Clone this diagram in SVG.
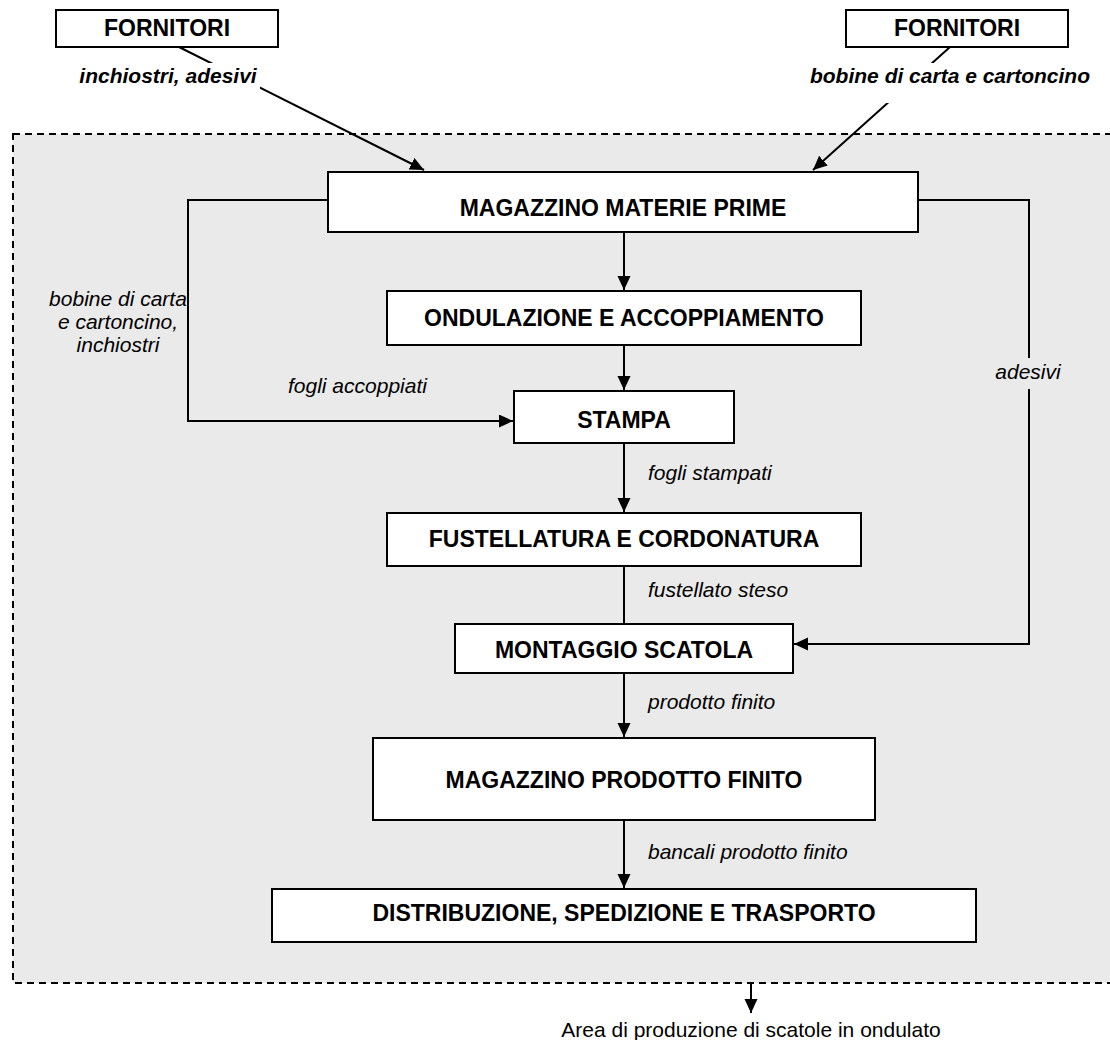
<svg xmlns="http://www.w3.org/2000/svg" width="1110" height="1040" viewBox="0 0 1110 1040">
<style>
.box{fill:#fff;stroke:#000;stroke-width:2}
.bt{font-family:"Liberation Sans",Arial,sans-serif;font-weight:bold;font-size:23px;fill:#000;text-anchor:middle}
.it{font-family:"Liberation Sans",Arial,sans-serif;font-style:italic;font-size:21px;fill:#000}
.bi{font-family:"Liberation Sans",Arial,sans-serif;font-style:italic;font-weight:bold;font-size:21px;fill:#000;text-anchor:middle}
.rg{font-family:"Liberation Sans",Arial,sans-serif;font-size:21px;fill:#000;text-anchor:middle}
.ln{fill:none;stroke:#000;stroke-width:2}
.arr{marker-end:url(#ah)}
</style>
<defs>
<marker id="ah" markerUnits="userSpaceOnUse" markerWidth="15" markerHeight="14" refX="14" refY="6.5" orient="auto">
<path d="M0,0 L14,6.5 L0,13 z" fill="#000"/>
</marker>
</defs>
<rect width="1110" height="1040" fill="#fff"/>
<g id="area">
<rect x="13" y="134" width="1110" height="849" fill="#eaeaea" stroke="#000" stroke-width="2" stroke-dasharray="7 5"/>
</g>
<g id="connectors">
<line class="ln arr" x1="179" y1="47" x2="424" y2="170"/>
<line class="ln arr" x1="950" y1="47" x2="813" y2="170"/>
<line class="ln arr" x1="624" y1="232" x2="624" y2="290"/>
<line class="ln arr" x1="624" y1="345" x2="624" y2="390"/>
<polyline class="ln arr" points="328,200 188,200 188,421 513,421"/>
<polyline class="ln arr" points="918,200 1029,200 1029,644 794,644"/>
<line class="ln arr" x1="624" y1="443" x2="624" y2="512"/>
<line class="ln" x1="624" y1="566" x2="624" y2="624"/>
<line class="ln arr" x1="624" y1="673" x2="624" y2="737"/>
<line class="ln arr" x1="624" y1="820" x2="624" y2="888"/>
<line class="ln arr" x1="751" y1="983" x2="751" y2="1013"/>
</g>
<g id="labels">
<rect x="80" y="63" width="180" height="34" fill="#fff"/>
<text class="bi" x="168" y="83">inchiostri, adesivi</text>
<rect x="808" y="63" width="284" height="40" fill="#fff"/>
<text class="bi" x="950" y="83">bobine di carta e cartoncino</text>
<rect x="994" y="358" width="70" height="31" fill="#eaeaea"/>
<text class="it" x="1028" y="379" text-anchor="middle">adesivi</text>
<text class="it" x="118" y="306" text-anchor="middle">bobine di carta</text>
<text class="it" x="118" y="329" text-anchor="middle">e cartoncino,</text>
<text class="it" x="118" y="352" text-anchor="middle">inchiostri</text>
<text class="it" x="288" y="393">fogli accoppiati</text>
<text class="it" x="648" y="480">fogli stampati</text>
<text class="it" x="648" y="597">fustellato steso</text>
<text class="it" x="648" y="709">prodotto finito</text>
<text class="it" x="648" y="859">bancali prodotto finito</text>
<text class="rg" x="751" y="1037">Area di produzione di scatole in ondulato</text>
</g>
<g id="fornitori-left">
<rect class="box" x="56" y="10" width="222" height="37"/>
<text class="bt" x="167" y="36">FORNITORI</text>
</g>
<g id="fornitori-right">
<rect class="box" x="846" y="10" width="222" height="37"/>
<text class="bt" x="957" y="36">FORNITORI</text>
</g>
<g id="magazzino-materie-prime">
<rect class="box" x="328" y="172" width="590" height="60"/>
<text class="bt" x="623" y="216">MAGAZZINO MATERIE PRIME</text>
</g>
<g id="ondulazione">
<rect class="box" x="387" y="291" width="474" height="54"/>
<text class="bt" x="624" y="326">ONDULAZIONE E ACCOPPIAMENTO</text>
</g>
<g id="stampa">
<rect class="box" x="514" y="391" width="220" height="52"/>
<text class="bt" x="624" y="428">STAMPA</text>
</g>
<g id="fustellatura">
<rect class="box" x="387" y="513" width="474" height="53"/>
<text class="bt" x="624" y="547">FUSTELLATURA E CORDONATURA</text>
</g>
<g id="montaggio">
<rect class="box" x="455" y="624" width="338" height="49"/>
<text class="bt" x="624" y="658">MONTAGGIO SCATOLA</text>
</g>
<g id="magazzino-prodotto-finito">
<rect class="box" x="373" y="738" width="502" height="82"/>
<text class="bt" x="624" y="788">MAGAZZINO PRODOTTO FINITO</text>
</g>
<g id="distribuzione">
<rect class="box" x="272" y="889" width="704" height="53"/>
<text class="bt" x="624" y="921">DISTRIBUZIONE, SPEDIZIONE E TRASPORTO</text>
</g>
</svg>
